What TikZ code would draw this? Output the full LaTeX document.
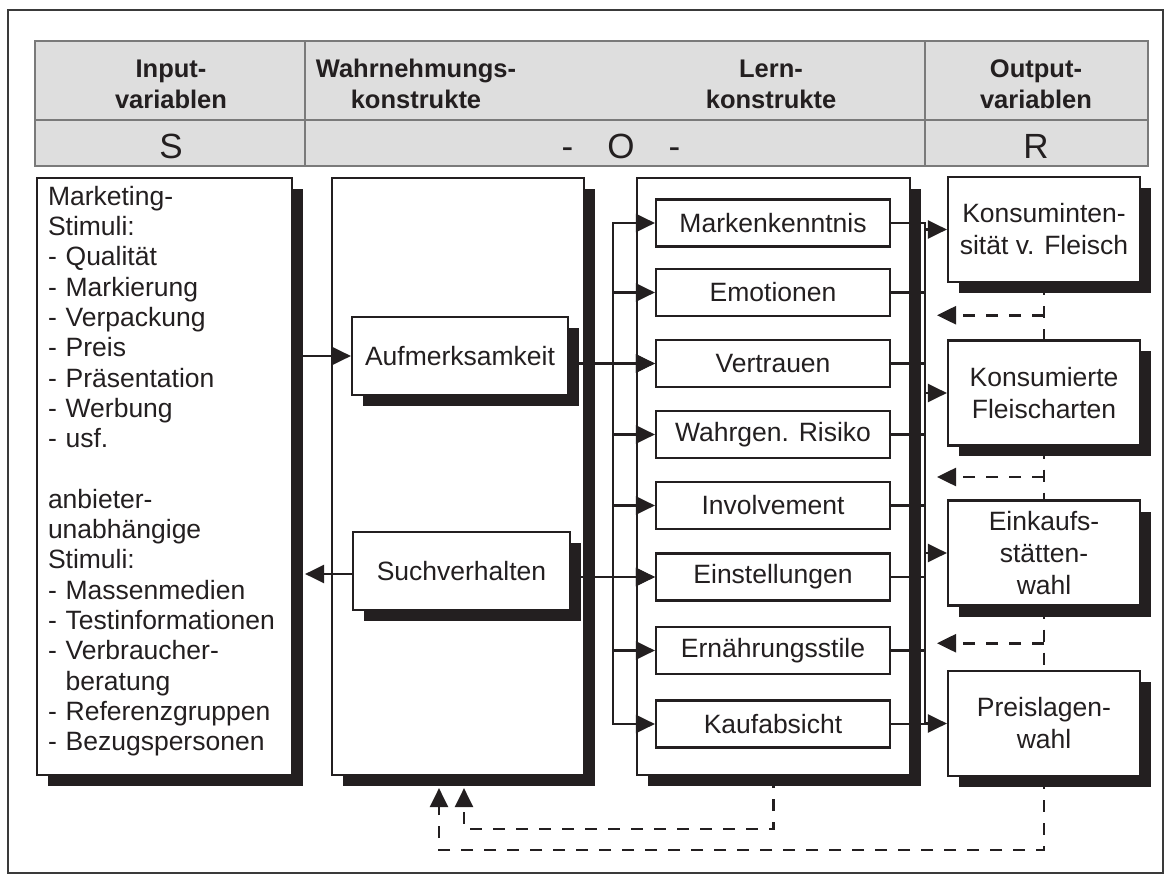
\documentclass[tikz,border=0pt]{standalone}
\usepackage{fontspec}
\setmainfont{Liberation Sans}
\usetikzlibrary{arrows.meta,calc,shadows}
\definecolor{ink}{HTML}{231F20}
\definecolor{hdr}{HTML}{DEDEDE}
\definecolor{hdrline}{HTML}{7A7A7A}
\definecolor{frame}{HTML}{3A3A3A}
\begin{document}
\begin{tikzpicture}[x=1pt,y=-1pt,
  box/.style={draw=ink, line width=2.2pt, fill=white, inner sep=0pt, text=ink},
  shbox/.style={box, drop shadow={opacity=1, fill=ink, shadow xshift=11pt, shadow yshift=-11pt}},
  body/.style={font=\fontsize{26.5}{30.3}\selectfont},
  lern/.style={box, minimum width=234pt, minimum height=47pt, body},
  outb/.style={shbox, minimum width=192pt, minimum height=105pt, font=\fontsize{26.5}{32}\selectfont, align=center},
  conn/.style={draw=ink, line width=2.6pt, line cap=rect},
  arr/.style={draw=ink, line width=2.6pt, -{Triangle[length=19pt,width=18pt]}},
  dsh/.style={draw=ink, line width=2.6pt, dash pattern=on 12pt off 11pt},
  dtip/.style={dsh, -{Triangle[length=19pt,width=18pt]}},
  hd/.style={font=\fontsize{25.5}{31}\selectfont\bfseries, text=ink, align=center, inner sep=0pt},
  sro/.style={font=\fontsize{35}{40}\selectfont, text=ink, inner sep=0pt}]
\useasboundingbox (0,0) rectangle (1171,877);
\draw[frame, line width=2.2pt] (8,10) rectangle (1163,873);
% header table
\draw[draw=hdrline, fill=hdr, line width=1.6pt] (35,41) rectangle (1148,166);
\draw[hdrline, line width=1.6pt] (35,120) -- (1148,120);
\draw[hdrline, line width=1.3pt] (305,41) -- (305,166);
\draw[hdrline, line width=1.3pt] (925,41) -- (925,166);
\node[hd] (h1) at (171,84) {Input-\\variablen};
\node[hd] (h2) at (416,84) {Wahrnehmungs-\\konstrukte};
\node[hd] (h3) at (771,84) {Lern-\\konstrukte};
\node[hd] (h4) at (1036,84) {Output-\\variablen};
\node[sro] (s) at (171,146) {S};
\node[sro] (o) at (621,146) {-\hspace{34pt}O\hspace{34pt}-};
\node[sro] (r) at (1036,146) {R};
% input box
\node[shbox, body, minimum width=255pt, minimum height=597pt, text width=233pt, align=left] (inb) at (164.5,476.5)
 {Marketing-\\Stimuli:\\- Qualität\\- Markierung\\- Verpackung\\- Preis\\- Präsentation\\- Werbung\\- usf.\\[30.3pt]anbieter-\\unabhängige\\Stimuli:\\- Massenmedien\\- Testinformationen\\- Verbraucher-\\\hphantom{- }beratung\\- Referenzgruppen\\- Bezugspersonen\rule[-16pt]{0pt}{16pt}};
% perception box
\node[shbox, minimum width=252pt, minimum height=597pt] (wb) at (458,476.5) {};
\node[shbox, body, minimum width=216pt, minimum height=78pt] (auf) at (460,356) {Aufmerksamkeit};
\node[shbox, body, minimum width=217pt, minimum height=78pt] (such) at (461.5,571) {Suchverhalten};
% learning box
\node[shbox, minimum width=273pt, minimum height=597pt] (lb) at (773.5,476.5) {};
\node[lern] (l1) at (773,223) {Markenkenntnis};
\node[lern] (l2) at (773,292.5) {Emotionen};
\node[lern] (l3) at (773,363.5) {Vertrauen};
\node[lern] (l4) at (773,434.5) {Wahrgen. Risiko};
\node[lern] (l5) at (773,505.5) {Involvement};
\node[lern] (l6) at (773,577) {Einstellungen};
\node[lern] (l7) at (773,650.5) {Ernährungsstile};
\node[lern] (l8) at (773,724) {Kaufabsicht};
% output boxes
\node[outb] (o1) at (1044,229.5) {Konsuminten-\\sität v. Fleisch};
\node[outb] (o2) at (1044,393) {Konsumierte\\Fleischarten};
\node[outb] (o3) at (1044,553) {Einkaufs-\\stätten-\\wahl};
\node[outb] (o4) at (1044,723.5) {Preislagen-\\wahl};
% buses
\coordinate (bl) at (613,0);
\coordinate (br) at (925,0);
\draw[conn] (bl |- l1.west) -- (bl |- l8.west);
\foreach \i in {1,...,8} {
  \draw[arr] (bl |- l\i.west) -- (l\i.west);
  \draw[conn] (l\i.east) -- (br |- l\i.east);
}
\draw[conn] (br |- l1.east) -- (br |- l8.east);
\foreach \j in {1,...,4} \draw[arr] (br |- o\j.west) -- (o\j.west);
% perception arrows
\draw[arr] (inb.east |- auf.west) -- (auf.west);
\draw[arr] (auf.east |- l3.west) -- (l3.west);
\draw[arr] (such.east |- l6.west) -- (l6.west);
\draw[arr] ($(such.west)+(0,3)$) -- ($(inb.east |- such.west)+(12,3)$);
% feedback
\draw[dsh] (o1.south) -- (o2.north);
\draw[dsh] (o2.south) -- (o3.north);
\draw[dsh] (o3.south) -- (o4.north);
\coordinate (f1) at ($(o1.south)!.5!(o2.north)+(0,4)$);
\coordinate (f2) at ($(o2.south)!.5!(o3.north)+(0,4)$);
\coordinate (f3) at ($(o3.south)!.5!(o4.north)+(0,5)$);
\draw[dtip] (f1) -- ($(br |- f1)+(12,0)$);
\draw[dtip] (f2) -- ($(br |- f2)+(12,0)$);
\draw[dtip] (f3) -- ($(br |- f3)+(12,0)$);
\draw[dtip] (o4.south) |- ($(wb.south)+(-19,74)$) -- ($(wb.south)+(-19,12)$);
\draw[dtip] (lb.south) |- ($(wb.south)+(6,53)$) -- ($(wb.south)+(6,12)$);
\end{tikzpicture}
\end{document}
